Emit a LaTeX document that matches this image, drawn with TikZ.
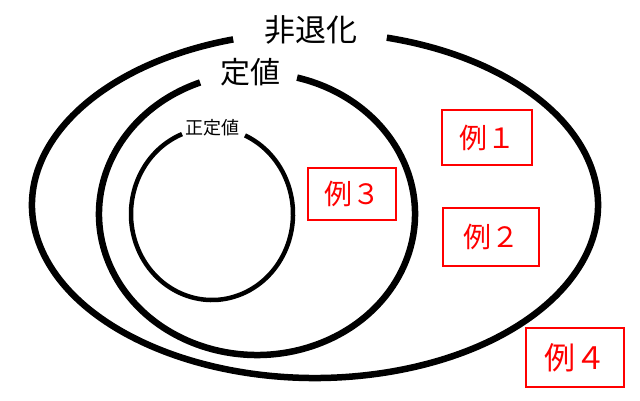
\documentclass[tikz,border=0pt]{standalone}
\usepackage{fontspec}
\setmainfont{Noto Sans CJK JP}
\begin{document}
\begin{tikzpicture}[x=1pt,y=1pt]
\tikzset{
  ring/.style={draw=black, line width=#1},
  lab/.style={inner sep=0pt, text=black},
  ex/.style={draw=red, line width=2.5pt, text=red, inner sep=0pt,
    font=\fontsize{28}{28}\selectfont}
}
\useasboundingbox (0,0) rectangle (640,400);
% outer ellipse (non-degenerate)
\draw[ring=6.5pt] (315,195) ++(106.8:283 and 173)
  arc[start angle=106.8, end angle=435.3, x radius=283, y radius=173];
% middle ellipse (definite)
\draw[ring=6.5pt] (257,186) ++(111.1:158 and 141)
  arc[start angle=111.1, end angle=435.3, x radius=158, y radius=141];
% inner ellipse (positive definite)
\draw[ring=4.5pt] (212,186) ++(111.7:81 and 86)
  arc[start angle=111.7, end angle=426, x radius=81, y radius=86];
% labels
\node[lab, font=\fontsize{31}{31}\selectfont] (nd) at (311,370) {非退化};
\node[lab, font=\fontsize{30}{30}\selectfont] (def) at (250,328) {定値};
\node[lab, font=\fontsize{18}{18}\selectfont] (pd) at (212,272) {正定値};
% examples
\node[ex, minimum width=90pt, minimum height=55pt] (e1) at (487,262.5) {例１};
\node[ex, minimum width=88pt, minimum height=52pt] (e3) at (352,206) {例３};
\node[ex, minimum width=96pt, minimum height=58pt] (e2) at (491,163) {例２};
\node[ex, minimum width=98pt, minimum height=59pt,
  font=\fontsize{31}{31}\selectfont] (e4) at (575,42.5) {例４};
\end{tikzpicture}
\end{document}
